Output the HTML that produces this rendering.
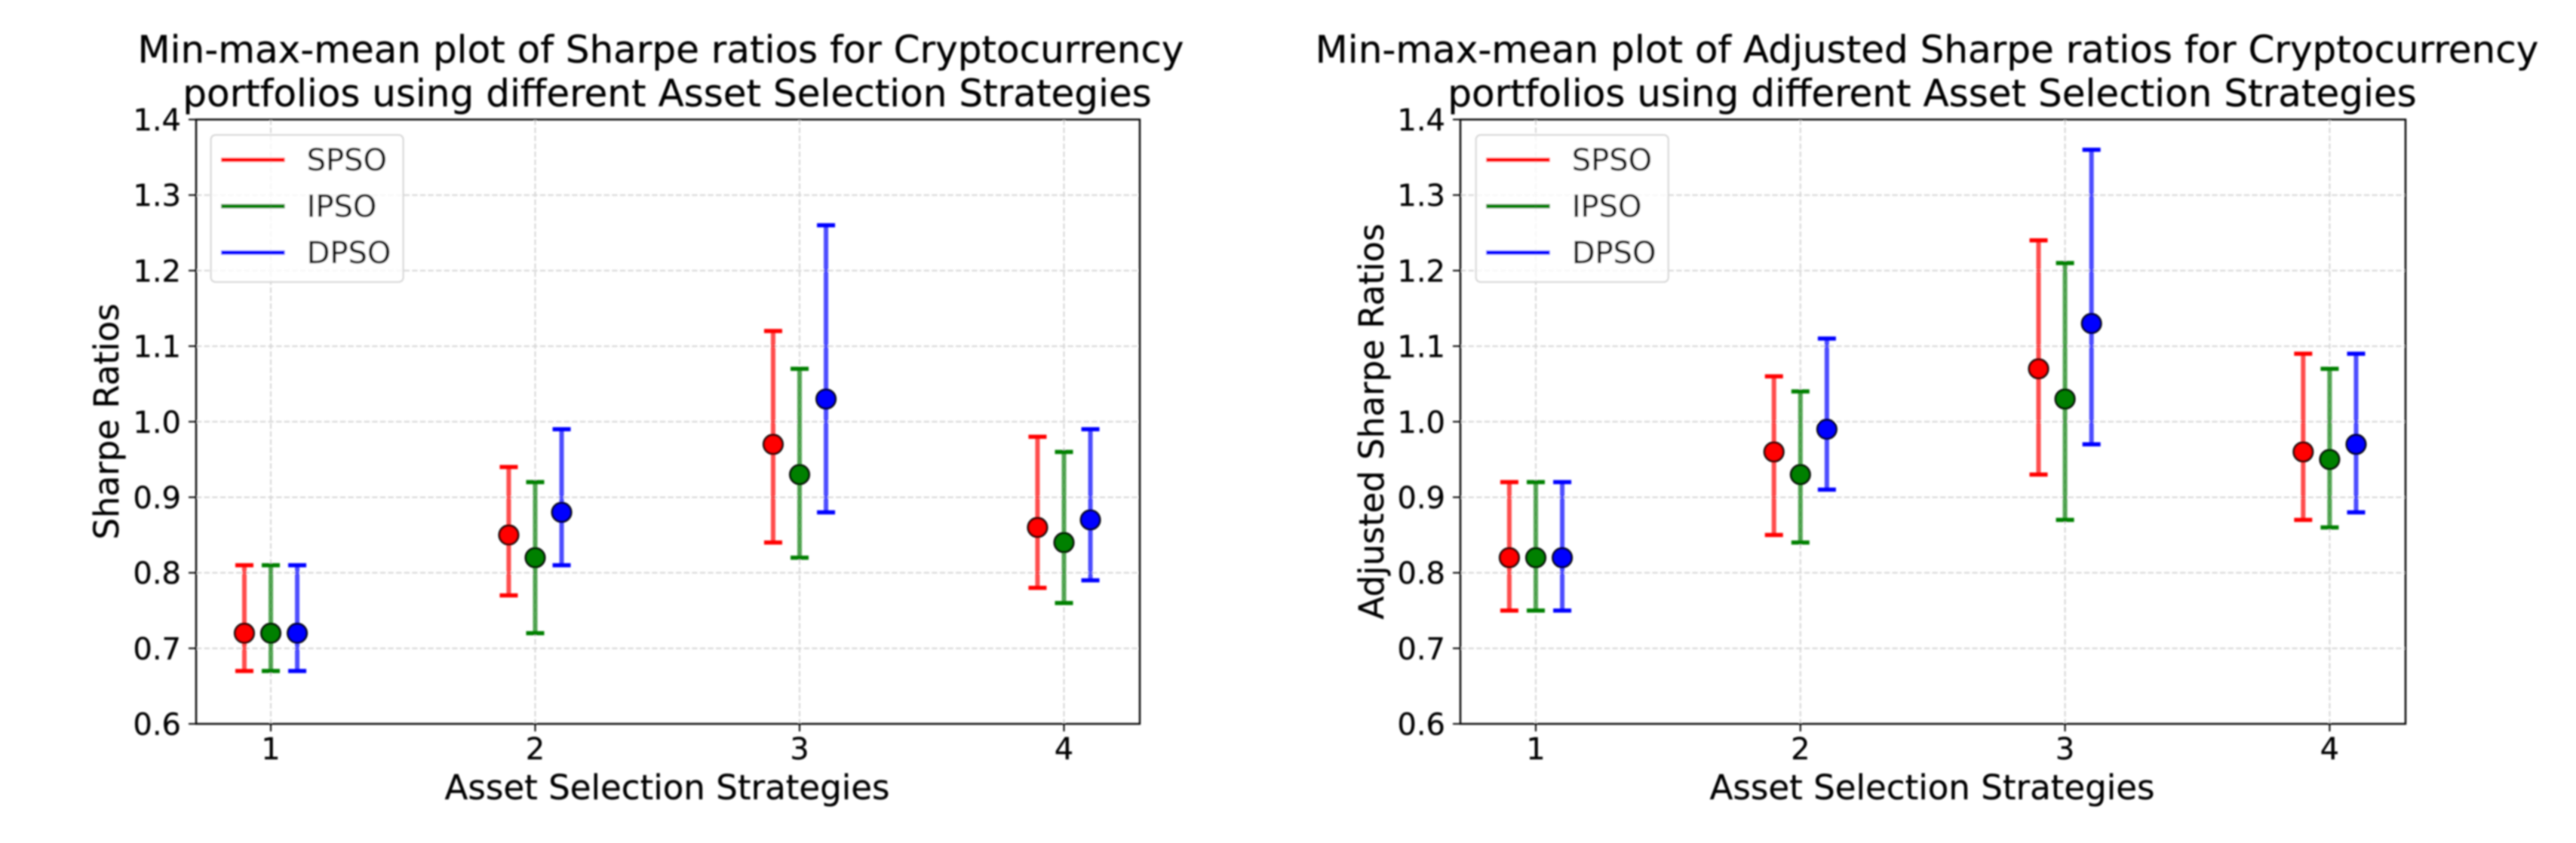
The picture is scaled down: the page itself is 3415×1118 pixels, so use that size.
<!DOCTYPE html>
<html lang="en">
<head>
<meta charset="utf-8">
<title>Min-max-mean plots of Sharpe ratios</title>
<style>
html,body{margin:0;padding:0;background:#fff;width:3415px;height:1118px;overflow:hidden}
svg{display:block}
text{font-family:"DejaVu Sans","Liberation Sans",sans-serif;fill:#000;stroke:#000;stroke-width:0.25px}
.title{font-size:50px}
.label{font-size:45.1px}
.tick{font-size:40px}
</style>
</head>
<body>
<svg id="figure" xmlns="http://www.w3.org/2000/svg" width="3415" height="1118" viewBox="0 0 3415 1118">
  <defs><filter id="soft" x="0" y="0" width="100%" height="100%" filterUnits="userSpaceOnUse" primitiveUnits="userSpaceOnUse"><feGaussianBlur stdDeviation="1"/></filter></defs>
  <rect width="3415" height="1118" fill="#fff"/>
  <g id="scene" filter="url(#soft)">
    <g id="panel-left">
      <text class="title" x="876" y="83" text-anchor="middle">Min-max-mean plot of Sharpe ratios for Cryptocurrency</text>
      <text class="title" x="884.5" y="141" text-anchor="middle">portfolios using different Asset Selection Strategies</text>
      <text class="label" x="884.5" y="1060" text-anchor="middle">Asset Selection Strategies</text>
      <text class="label" transform="translate(157 559) rotate(-90)" text-anchor="middle">Sharpe Ratios</text>
    </g>
    <g id="panel-right">
      <text class="title" x="2554.5" y="83" text-anchor="middle">Min-max-mean plot of Adjusted Sharpe ratios for Cryptocurrency</text>
      <text class="title" x="2561.5" y="141" text-anchor="middle">portfolios using different Asset Selection Strategies</text>
      <text class="label" x="2561.5" y="1060" text-anchor="middle">Asset Selection Strategies</text>
      <text class="label" transform="translate(1834 559) rotate(-90)" text-anchor="middle">Adjusted Sharpe Ratios</text>
    </g>
  </g>
</svg>
<script>
const categories = [1, 2, 3, 4];
const seriesNames = ['SPSO', 'IPSO', 'DPSO'];
const seriesOffsets = [-0.1, 0, 0.1];
const yTickLabels = ['0.6', '0.7', '0.8', '0.9', '1.0', '1.1', '1.2', '1.3', '1.4'];

const sharpeSpsoMean = [0.72, 0.85, 0.97, 0.86];
const sharpeSpsoMin = [0.67, 0.77, 0.84, 0.78];
const sharpeSpsoMax = [0.81, 0.94, 1.12, 0.98];
const sharpeIpsoMean = [0.72, 0.82, 0.93, 0.84];
const sharpeIpsoMin = [0.67, 0.72, 0.82, 0.76];
const sharpeIpsoMax = [0.81, 0.92, 1.07, 0.96];
const sharpeDpsoMean = [0.72, 0.88, 1.03, 0.87];
const sharpeDpsoMin = [0.67, 0.81, 0.88, 0.79];
const sharpeDpsoMax = [0.81, 0.99, 1.26, 0.99];

const adjustedSpsoMean = [0.82, 0.96, 1.07, 0.96];
const adjustedSpsoMin = [0.75, 0.85, 0.93, 0.87];
const adjustedSpsoMax = [0.92, 1.06, 1.24, 1.09];
const adjustedIpsoMean = [0.82, 0.93, 1.03, 0.95];
const adjustedIpsoMin = [0.75, 0.84, 0.87, 0.86];
const adjustedIpsoMax = [0.92, 1.04, 1.21, 1.07];
const adjustedDpsoMean = [0.82, 0.99, 1.13, 0.97];
const adjustedDpsoMin = [0.75, 0.91, 0.97, 0.88];
const adjustedDpsoMax = [0.92, 1.11, 1.36, 1.09];

const seriesColors = ['#ff0000', '#008000', '#0000ff'];
const SVG_NS = 'http://www.w3.org/2000/svg';

function make(parent, tag, attrs, text) {
  const el = document.createElementNS(SVG_NS, tag);
  for (const key in attrs) el.setAttribute(key, attrs[key]);
  if (text !== undefined) el.textContent = text;
  parent.appendChild(el);
  return el;
}

function drawPanel(root, prefix, box, means, mins, maxs, legendBox) {
  const xScale = v => box.tick1 + (v - 1) * box.unit;
  const yScale = v => box.bottom - (v - 0.6) * (box.bottom - box.top) / 0.8;
  const gridStyle = { stroke: '#d6d6d6', 'stroke-width': 2, 'stroke-dasharray': '7.4 3.2' };

  yTickLabels.forEach(label => {
    const y = yScale(parseFloat(label));
    if (y > box.top + 2 && y < box.bottom - 2) {
      const gridLine = make(root, 'line', Object.assign({ x1: box.left, x2: box.right, y1: y, y2: y }, gridStyle));
      
      
    }
    const tickMark = make(root, 'line', { x1: box.left - 10, x2: box.left, y1: y, y2: y, stroke: '#000', 'stroke-width': 2 });
    
    
    const tickLabel = make(root, 'text', { class: 'tick', x: box.left - 20, y: y + 14.5, 'text-anchor': 'end' }, label);
    
    
  });

  categories.forEach(cat => {
    const x = xScale(cat);
    const gridLine = make(root, 'line', Object.assign({ x1: x, x2: x, y1: box.top, y2: box.bottom }, gridStyle));
    
    
    const tickMark = make(root, 'line', { x1: x, x2: x, y1: box.bottom, y2: box.bottom + 10, stroke: '#000', 'stroke-width': 2 });
    
    
    const tickLabel = make(root, 'text', { class: 'tick', x: x, y: 1007, 'text-anchor': 'middle' }, String(cat));
    
    
  });

  seriesNames.forEach((name, s) => {
    const color = seriesColors[s];
    const group = make(root, 'g', {});
    
    
    categories.forEach((cat, i) => {
      const x = xScale(cat + seriesOffsets[s]);
      const stem = make(group, 'line', { x1: x, x2: x, y1: yScale(mins[s][i]), y2: yScale(maxs[s][i]), stroke: color, 'stroke-width': 6, 'stroke-opacity': 0.7 });
      
      
      [mins[s][i], maxs[s][i]].forEach(v => {
        const cap = make(group, 'line', { x1: x - 12, x2: x + 12, y1: yScale(v), y2: yScale(v), stroke: color, 'stroke-width': 5.5 });
        
        
      });
    });
    categories.forEach((cat, i) => {
      const point = make(group, 'circle', { cx: xScale(cat + seriesOffsets[s]), cy: yScale(means[s][i]), r: 12.6, fill: color, stroke: '#000', 'stroke-width': 2.8 });
      
      
    });
  });

  const frame = make(root, 'rect', { x: box.left, y: box.top, width: box.right - box.left, height: box.bottom - box.top, fill: 'none', stroke: '#000', 'stroke-width': 2.4 });
  
  

  const legend = make(root, 'g', {});
  
  
  const legendFrame = make(legend, 'rect', { x: legendBox.x, y: 179, width: legendBox.w, height: 195, rx: 6, fill: '#fff', 'fill-opacity': 0.8, stroke: '#d4d4d4', 'stroke-width': 2 });
  
  
  seriesNames.forEach((name, s) => {
    const rowY = 212 + s * 61.5;
    const swatch = make(legend, 'line', { x1: legendBox.x + 13.5, x2: legendBox.x + 98, y1: rowY, y2: rowY, stroke: seriesColors[s], 'stroke-width': 5.5 });
    
    
    const entry = make(legend, 'text', { class: 'tick', x: legendBox.x + 127, y: rowY + 14 }, name);
    
    
  });
}

drawPanel(
  document.getElementById('panel-left'), 'sharpe',
  { left: 260, right: 1511, top: 158.5, bottom: 960, tick1: 359, unit: 350.5 },
  [sharpeSpsoMean, sharpeIpsoMean, sharpeDpsoMean],
  [sharpeSpsoMin, sharpeIpsoMin, sharpeDpsoMin],
  [sharpeSpsoMax, sharpeIpsoMax, sharpeDpsoMax],
  { x: 279.6, w: 255 }
);
drawPanel(
  document.getElementById('panel-right'), 'adjusted',
  { left: 1936, right: 3189, top: 158.5, bottom: 960, tick1: 2036, unit: 350.8 },
  [adjustedSpsoMean, adjustedIpsoMean, adjustedDpsoMean],
  [adjustedSpsoMin, adjustedIpsoMin, adjustedDpsoMin],
  [adjustedSpsoMax, adjustedIpsoMax, adjustedDpsoMax],
  { x: 1956.7, w: 255 }
);
</script>
</body>
</html>
